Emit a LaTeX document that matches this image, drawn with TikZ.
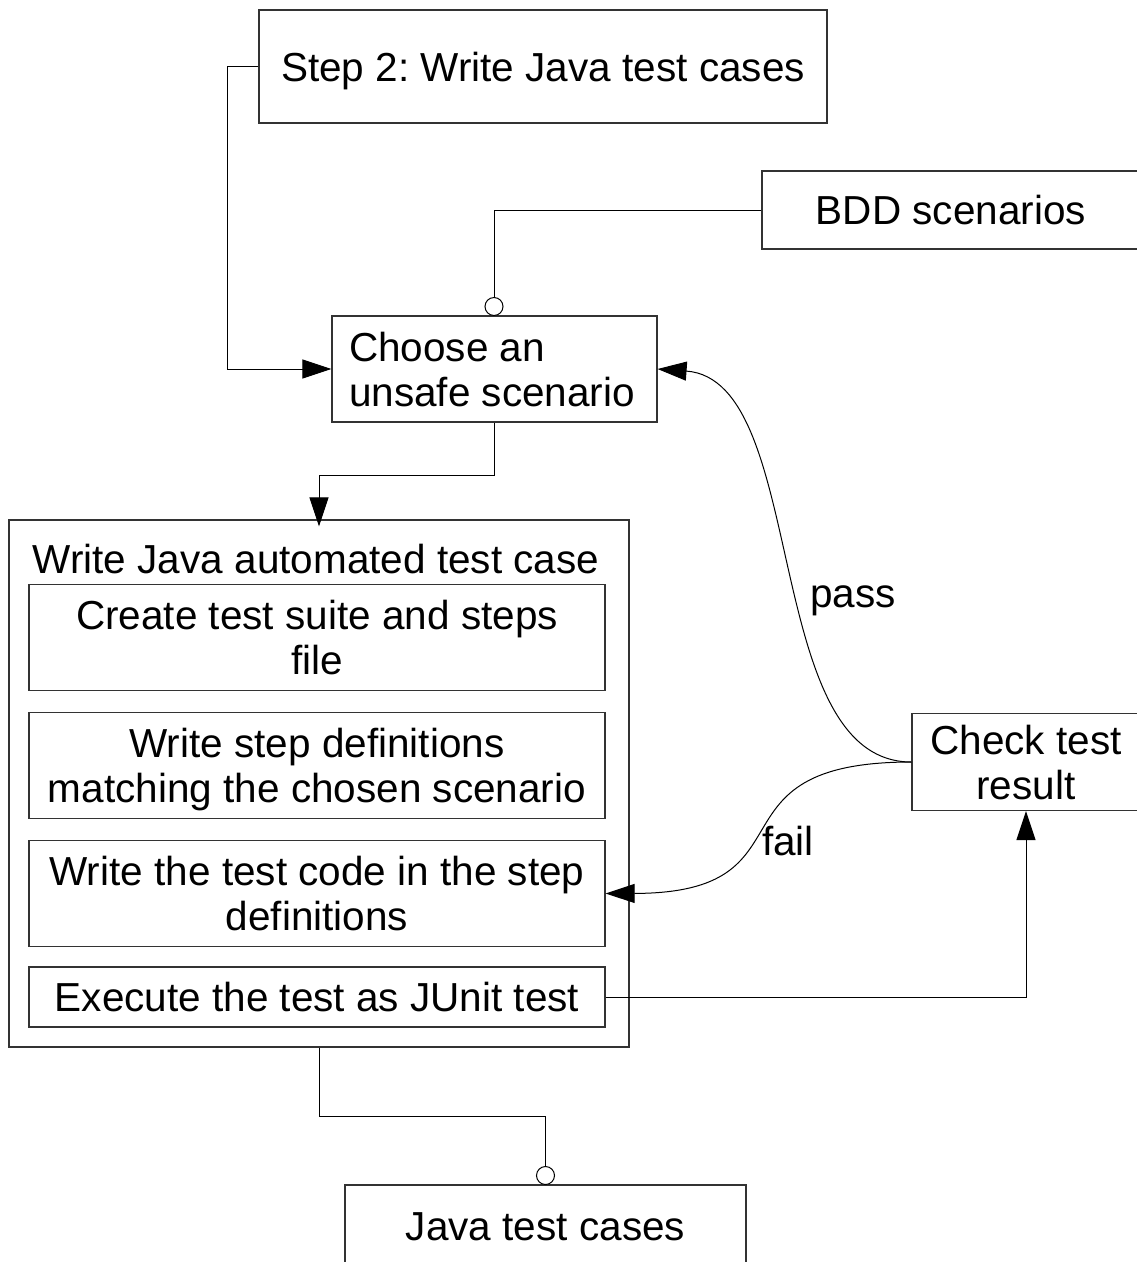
\documentclass[tikz,border=0pt]{standalone}
\usepackage{fontspec}
\setmainfont{Liberation Sans}
\frenchspacing
\usetikzlibrary{arrows.meta}
\tikzset{
  box/.style={draw=black!80, line width=1.2pt, rectangle, inner sep=0pt, align=center, font=\fontsize{40.5}{45}\selectfont\frenchspacing},
  one/.style={text height=29pt, text depth=0pt},
  two/.style={text height=74pt, text depth=0pt},
  conn/.style={line width=1pt, draw=black},
  arr/.style={conn, -{Triangle[length=29pt,width=19pt]}},
  port/.style={circle, draw=black, line width=1pt, fill=white, minimum size=18pt, inner sep=0pt},
  lbl/.style={font=\fontsize{40.5}{45}\selectfont, inner sep=0pt}
}
\begin{document}
\begin{tikzpicture}[x=1pt,y=-1pt]
\useasboundingbox (0,0) rectangle (1137,1262);
\clip (0,0) rectangle (1137,1262);
\fill[white] (0,0) rectangle (1137,1262);
% boxes
\node[box, one, minimum width=568, minimum height=113] (step2) at (543,66.5) {Step 2: Write Java test cases};
\node[box, one, minimum width=378, minimum height=78] (bdd) at (951,210) {BDD scenarios};
\node[box, minimum width=325, minimum height=106, align=flush left, text width=291pt, text height=29pt, text depth=45pt] (choose) at (494.5,369) {Choose an\\unsafe scenario};
\node[box, minimum width=620, minimum height=527] (write) at (319,783.5) {};
\node[lbl, anchor=base] (writetitle) at (316,573) {Write Java automated test case};
\node[box, two, minimum width=576, minimum height=106] (c1) at (317,637.5) {Create test suite and steps\\file};
\node[box, two, minimum width=576, minimum height=106] (c2) at (317,765.5) {Write step definitions\\matching the chosen scenario};
\node[box, two, minimum width=576, minimum height=106] (c3) at (317,893.5) {Write the test code in the step\\definitions};
\node[box, one, minimum width=576, minimum height=60] (c4) at (317,997) {Execute the test as JUnit test};
\node[box, two, minimum width=228, minimum height=97] (check) at (1026,762) {Check test\\result};
\node[box, minimum width=401, minimum height=100, text height=29pt, text depth=19pt] (jtc) at (545.5,1235) {Java test cases};
% ports
\node[port] (p1) at (494,306.5) {};
\node[port] (p2) at (545.5,1175.5) {};
% connectors
\draw[arr] (step2.west) -- ++(-31,0) |- (choose.west);
\draw[conn] (bdd.west) -| (p1.north);
\draw[arr] (choose.south) -- ++(0,53) -| ([yshift=-7pt]write.north);
\draw[arr] (c4.east) -| (check.south);
\draw[arr] (check.west) .. controls (760,762) and (810,380) .. (choose.east);
\draw[arr] (check.west) .. controls (700,762) and (820,893) .. (c3.east);
\draw[conn] (write.south) -- ++(0,69) -| (p2.north);
% labels
\node[lbl, anchor=base west] (pass) at (810,607) {pass};
\node[lbl, anchor=base west] (fail) at (762,855) {fail};
\end{tikzpicture}
\end{document}
